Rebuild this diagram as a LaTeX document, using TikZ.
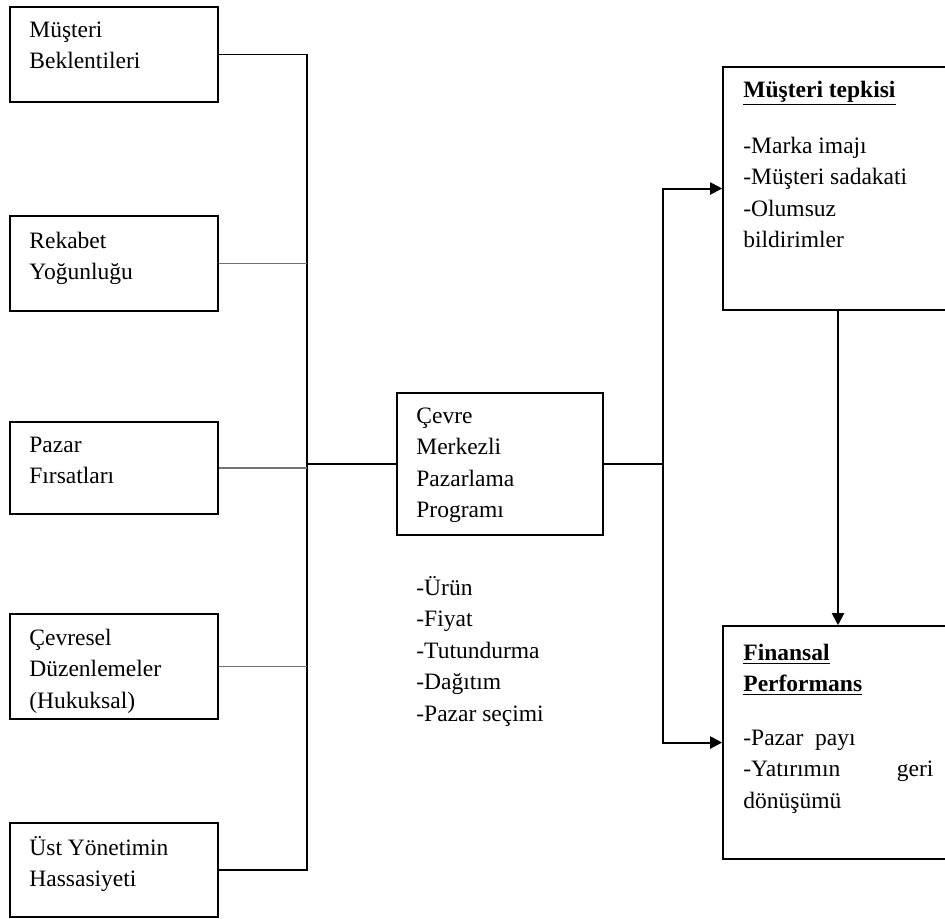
\documentclass[tikz,border=0pt]{standalone}
\usepackage{fontspec}
\setmainfont{Liberation Serif}
\usetikzlibrary{fit,arrows.meta}
\begin{document}
\begin{tikzpicture}[x=0.5pt,y=-0.5pt,
  box/.style={draw, line width=0.8pt, inner sep=0pt},
  txt/.style={anchor=base west, inner sep=0pt, font=\fontsize{11.75}{15.75}\selectfont},
  lin/.style={line width=0.8pt},
  thinlin/.style={line width=0.6pt, black!55},
  arr/.style={line width=1pt, -{Triangle[length=6pt,width=6pt]}}
]
\useasboundingbox (0,0) rectangle (945,918);
\clip (0,0) rectangle (945,918);

% left boxes
\node[box, fit={(10,7) (218,102)}] (b1) {};
\node[box, fit={(10,216) (218,311)}] (b2) {};
\node[box, fit={(10,422) (218,514)}] (b3) {};
\node[box, fit={(10,614) (218,719)}] (b4) {};
\node[box, fit={(10,823) (218,917)}] (b5) {};

\node[txt] (t1) at (29,37) {\begin{tabular}[t]{@{}l@{}}Müşteri\\Beklentileri\end{tabular}};
\node[txt] (t2) at (29,248) {\begin{tabular}[t]{@{}l@{}}Rekabet\\Yoğunluğu\end{tabular}};
\node[txt] (t3) at (29,452) {\begin{tabular}[t]{@{}l@{}}Pazar\\Fırsatları\end{tabular}};
\node[txt] (t4) at (29,645) {\begin{tabular}[t]{@{}l@{}}Çevresel\\Düzenlemeler\\(Hukuksal)\end{tabular}};
\node[txt] (t5) at (29,855) {\begin{tabular}[t]{@{}l@{}}Üst Yönetimin\\Hassasiyeti\end{tabular}};

% center box
\node[box, fit={(397,393) (603,535)}] (c) {};
\node[txt] (tc) at (416,423) {\begin{tabular}[t]{@{}l@{}}Çevre\\Merkezli\\Pazarlama\\Programı\end{tabular}};
\node[txt] (tl) at (416,595) {\begin{tabular}[t]{@{}l@{}}-Ürün\\-Fiyat\\-Tutundurma\\-Dağıtım\\-Pazar seçimi\end{tabular}};

% right boxes
\node[box, fit={(723,67) (953,310)}] (m1) {};
\node[box, fit={(723,626) (953,859)}] (m2) {};
\node[txt] (m1h) at (743,97) {\textbf{\underline{Müşteri tepkisi}}};
\node[txt] (m1t) at (743,153) {\begin{tabular}[t]{@{}l@{}}-Marka imajı\\-Müşteri sadakati\\-Olumsuz\\bildirimler\end{tabular}};
\node[txt] (m2h) at (743,660) {\begin{tabular}[t]{@{}l@{}}\textbf{\underline{Finansal}}\\\textbf{\underline{Performans}}\end{tabular}};
\node[txt] (m2t) at (743,745) {\begin{tabular}[t]{@{}l@{}}-Pazar\ \ payı\\\makebox[95pt][l]{-Yatırımın\hfill geri}\\dönüşümü\end{tabular}};

% left collector
\coordinate (j1) at (307,55);
\coordinate (j5) at (307,870);
\draw[lin] (b1.east) -- (b1.east -| j1) -- (b5.east -| j1) -- (b5.east);
\draw[thinlin] (b2.east) -- (b2.east -| j1);
\draw[thinlin] (b3.east) -- (b3.east -| j1);
\draw[thinlin] (b4.east) -- (b4.east -| j1);
\draw[lin] (c.west -| j1) -- (c.west);

% right distribution
\coordinate (k) at (663,464);
\draw[line width=1pt] (c.east) -- (k);
\draw[arr] (k) |- (m1.west);
\draw[arr] (k) |- (m2.west);
\draw[arr] (m1.south) -- (m2.north);
\end{tikzpicture}
\end{document}
